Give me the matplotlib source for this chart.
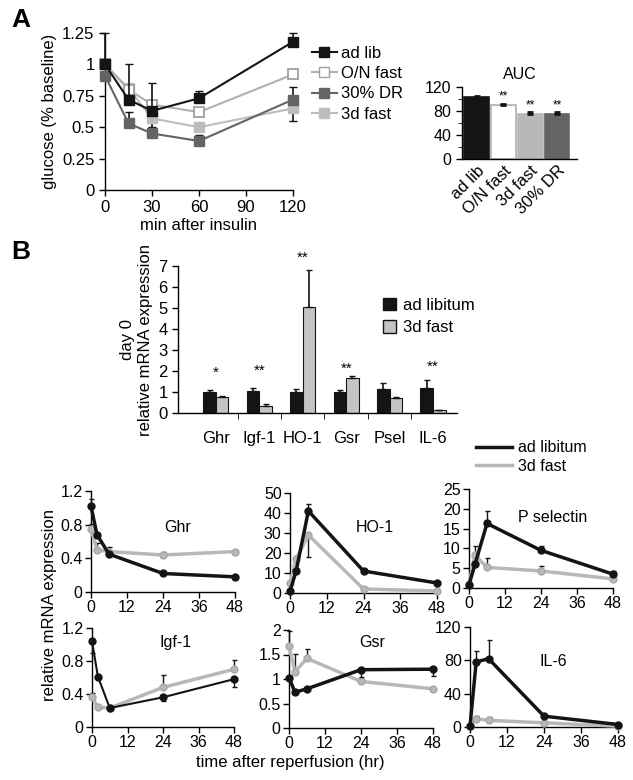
import matplotlib
matplotlib.use("Agg")
import matplotlib.pyplot as plt
from matplotlib.lines import Line2D
from matplotlib.patches import Patch
import numpy as np

plt.rcParams['font.family'] = ['Liberation Sans', 'DejaVu Sans']
plt.rcParams['axes.linewidth'] = 1.0
plt.rcParams['xtick.major.width'] = 1.0
plt.rcParams['ytick.major.width'] = 1.0

# ---------------- Panel A data ----------------
a_minutes = [0, 15, 30, 60, 120]
a_adlib = [1.00, 0.72, 0.63, 0.73, 1.18]
a_adlib_up = [0.25, 0.28, 0.22, 0.06, 0.07]
a_onfast = [1.00, 0.80, 0.68, 0.62, 0.92]
a_dr30 = [0.91, 0.53, 0.45, 0.39, 0.72]
a_dr30_up = [0.0, 0.09, 0.0, 0.05, 0.10]
a_fast3d = [1.00, 0.81, 0.57, 0.50, 0.65]
a_fast3d_lo = [0.0, 0.0, 0.07, 0.0, 0.10]

auc_labels = ['ad lib', 'O/N fast', '3d fast', '30% DR']
auc_values = [103, 90, 75, 75]
auc_err = [1.5, 2.5, 4, 3]
auc_sig = ['', '**', '**', '**']

# ---------------- Panel B day 0 data ----------------
genes = ['Ghr', 'Igf-1', 'HO-1', 'Gsr', 'Psel', 'IL-6']
d0_adlib = [1.02, 1.05, 1.02, 1.02, 1.12, 1.20]
d0_adlib_err = [0.07, 0.15, 0.10, 0.06, 0.33, 0.35]
d0_fast = [0.75, 0.35, 5.05, 1.65, 0.72, 0.13]
d0_fast_err = [0.06, 0.07, 1.75, 0.10, 0.06, 0.03]
d0_sig = ['*', '**', '**', '**', '', '**']
d0_sig_y = [1.9, 2.0, 7.4, 2.1, 0, 2.2]

# ---------------- Time course data ----------------
hours = [0, 2, 6, 24, 48]
tc_titles = ['Ghr', 'HO-1', 'P selectin', 'Igf-1', 'Gsr', 'IL-6']
tc_adlib = [
    [1.02, 0.68, 0.45, 0.22, 0.18],
    [1, 11, 41, 11, 5],
    [0.8, 6, 16.3, 9.5, 3.5],
    [1.04, 0.61, 0.23, 0.36, 0.58],
    [1.03, 0.73, 0.80, 1.19, 1.20],
    [1, 78, 82, 13, 3],
]
tc_adlib_up = [
    [0.08, 0.02, 0.02, 0.02, 0.01],
    [0.5, 1.5, 3.5, 1, 0.5],
    [0.2, 0.6, 3.2, 1.0, 0.8],
    [0, 0, 0.02, 0, 0],
    [0, 0, 0, 0, 0],
    [0, 13, 23, 2, 1],
]
tc_adlib_lo = [
    [0, 0, 0, 0, 0],
    [0, 0, 0, 0, 0],
    [0, 0, 0, 0, 0],
    [0.14, 0.02, 0.02, 0.05, 0.09],
    [0, 0.03, 0.02, 0.14, 0.13],
    [0, 0, 0, 0, 0],
]
tc_fast = [
    [0.75, 0.50, 0.48, 0.44, 0.48],
    [5, 17, 29, 2, 1],
    [1.0, 8.3, 5.2, 4.3, 2.3],
    [0.36, 0.24, 0.23, 0.48, 0.70],
    [1.67, 1.15, 1.42, 0.95, 0.80],
    [1, 10, 8, 5, 1],
]
tc_fast_up = [
    [0.06, 0.08, 0.06, 0.03, 0.02],
    [1, 1.5, 0, 0.5, 0.3],
    [0, 2.4, 2.3, 1.2, 0.3],
    [0.05, 0.02, 0.02, 0.15, 0.11],
    [0.30, 0.37, 0.20, 0.02, 0.02],
    [0, 3, 4, 1, 0.5],
]
tc_fast_lo = [
    [0, 0, 0, 0, 0],
    [0, 0, 11, 0, 0],
    [0, 0, 0, 0, 0],
    [0, 0, 0, 0, 0],
    [0, 0, 0, 0, 0],
    [0, 0, 0, 0, 0],
]
tc_ylim = [1.2, 50, 25, 1.2, 2, 120]
tc_yticks = [[0, 0.4, 0.8, 1.2], [0, 10, 20, 30, 40, 50], [0, 5, 10, 15, 20, 25],
             [0, 0.4, 0.8, 1.2], [0, 0.5, 1, 1.5, 2], [0, 40, 80, 120]]
tc_yticklabels = [['0', '0.4', '0.8', '1.2'], ['0', '10', '20', '30', '40', '50'],
                  ['0', '5', '10', '15', '20', '25'], ['0', '0.4', '0.8', '1.2'],
                  ['0', '0.5', '1', '1.5', '2'], ['0', '40', '80', '120']]
tc_title_pos = [(0.60, 0.64), (0.58, 0.66), (0.58, 0.71), (0.59, 0.85), (0.58, 0.87), (0.56, 0.65)]

BLACK = '#141414'
LGRAY = '#b8b8b8'
DGRAY = '#646464'

FS = 12
fig = plt.figure(figsize=(6.33, 7.80), dpi=100)
W, H = 633, 780


def ax_px(left, top, right, bottom):
    return fig.add_axes([left / W, 1 - bottom / H, (right - left) / W, (bottom - top) / H])


def clean(ax):
    ax.spines['top'].set_visible(False)
    ax.spines['right'].set_visible(False)
    ax.tick_params(direction='out', length=4)


# ---------------- Panel A ----------------
axA = ax_px(105, 33, 293, 190)
clean(axA)
axA.errorbar(a_minutes, a_fast3d, yerr=[a_fast3d_lo, [0] * 5], color='#bdbdbd', lw=1.5,
             marker='s', ms=6.5, mfc='#bdbdbd', mec='#bdbdbd', ecolor=BLACK, elinewidth=1.2,
             capsize=3, clip_on=False, zorder=3)
axA.errorbar(a_minutes, a_dr30, yerr=[[0] * 5, a_dr30_up], color=DGRAY, lw=1.5,
             marker='s', ms=6.5, mfc=DGRAY, mec=DGRAY, ecolor=BLACK, elinewidth=1.2,
             capsize=3, clip_on=False, zorder=3)
axA.errorbar(a_minutes, a_onfast, color='#b0b0b0', lw=1.5, marker='s', ms=6.5,
             mfc='white', mec='#a0a0a0', mew=1.3, clip_on=False, zorder=4)
axA.errorbar(a_minutes, a_adlib, yerr=[[0] * 5, a_adlib_up], color=BLACK, lw=1.5,
             marker='s', ms=6.5, mfc=BLACK, mec=BLACK, ecolor=BLACK, elinewidth=1.2,
             capsize=3, clip_on=False, zorder=5)
axA.set_xlim(0, 120)
axA.set_ylim(0, 1.25)
axA.set_xticks([0, 30, 60, 90, 120])
axA.set_yticks([0, 0.25, 0.5, 0.75, 1, 1.25])
axA.set_yticklabels(['0', '0.25', '0.5', '0.75', '1', '1.25'])
axA.tick_params(labelsize=FS)
axA.set_xlabel('min after insulin', fontsize=FS, labelpad=2)
axA.set_ylabel('glucose (% baseline)', fontsize=FS, labelpad=4)

hA = [Line2D([0], [0], color=BLACK, lw=1.5, marker='s', ms=6.5, mfc=BLACK, mec=BLACK),
      Line2D([0], [0], color='#b0b0b0', lw=1.5, marker='s', ms=6.5, mfc='white', mec='#a0a0a0'),
      Line2D([0], [0], color=DGRAY, lw=1.5, marker='s', ms=6.5, mfc=DGRAY, mec=DGRAY),
      Line2D([0], [0], color='#bdbdbd', lw=1.5, marker='s', ms=6.5, mfc='#bdbdbd', mec='#bdbdbd')]
fig.legend(hA, ['ad lib', 'O/N fast', '30% DR', '3d fast'], loc='upper left',
           bbox_to_anchor=(305 / W, 1 - 39 / H), frameon=False, fontsize=FS,
           handlelength=1.5, handletextpad=0.25, labelspacing=0.32, borderaxespad=0)

# AUC
axU = ax_px(462, 87, 577, 159)
clean(axU)
xs = np.arange(len(auc_labels))
auc_colors = [BLACK, 'white', '#b8b8b8', DGRAY]
auc_edges = [BLACK, '#b0b0b0', '#b8b8b8', DGRAY]
axU.bar(xs, auc_values, width=0.92, color=auc_colors, edgecolor=auc_edges, linewidth=1.2)
axU.errorbar(xs, auc_values, yerr=[[0] * 4, auc_err], fmt='none', ecolor=BLACK,
             elinewidth=2, capsize=2.5, capthick=2)
for x, v, e, s in zip(xs, auc_values, auc_err, auc_sig):
    if s:
        axU.text(x, v + e + 1, s, ha='center', va='bottom', fontsize=8.5)
axU.set_xlim(-0.55, 3.75)
axU.set_ylim(0, 120)
axU.set_yticks([0, 40, 80, 120])
axU.set_yticks([20, 60, 100], minor=True)
axU.tick_params(axis='y', which='minor', length=3, direction='out')
axU.set_xticks(xs)
axU.set_xticklabels(auc_labels, rotation=45, ha='right', rotation_mode='anchor', fontsize=FS)
axU.tick_params(axis='x', length=0, pad=3)
axU.tick_params(axis='y', labelsize=11.5)
axU.set_title('AUC', fontsize=11.5, pad=6)

# ---------------- Panel B day 0 ----------------
axB = ax_px(178, 266, 457, 413)
clean(axB)
gx = np.arange(len(genes))
bw = 0.29
axB.bar(gx - bw / 2, d0_adlib, width=bw, color=BLACK, edgecolor=BLACK, linewidth=0.8)
axB.bar(gx + bw / 2, d0_fast, width=bw, color='#c4c4c4', edgecolor=BLACK, linewidth=0.8)
axB.errorbar(gx - bw / 2, d0_adlib, yerr=[[0] * 6, d0_adlib_err], fmt='none', ecolor=BLACK,
             elinewidth=1.2, capsize=2.5)
axB.errorbar(gx + bw / 2, d0_fast, yerr=[[0] * 6, d0_fast_err], fmt='none', ecolor=BLACK,
             elinewidth=1.2, capsize=2.5)
for x, s, y in zip(gx, d0_sig, d0_sig_y):
    if s:
        axB.text(x, y, s, ha='center', va='center', fontsize=11)
axB.set_xlim(-0.87, 5.55)
axB.set_ylim(0, 7)
axB.set_yticks(range(0, 8))
axB.tick_params(axis='y', labelsize=FS)
axB.set_xticks(gx)
axB.set_xticklabels(genes, fontsize=FS)
axB.tick_params(axis='x', which='major', length=0, pad=13)
axB.set_xticks(gx[:-1] + 0.5, minor=True)
axB.tick_params(axis='x', which='minor', length=4, direction='out')
axB.set_ylabel('day 0\nrelative mRNA expression', fontsize=FS, labelpad=4, linespacing=1.25)
axB.legend(handles=[Patch(facecolor=BLACK, edgecolor=BLACK),
                    Patch(facecolor='#c4c4c4', edgecolor=BLACK)],
           labels=['ad libitum', '3d fast'], loc='upper left', bbox_to_anchor=(0.71, 0.83),
           frameon=False, fontsize=FS, handlelength=0.8, handleheight=0.8,
           handletextpad=0.4, labelspacing=0.45, borderaxespad=0)

# bottom legend
hT = [Line2D([0], [0], color=BLACK, lw=2.5), Line2D([0], [0], color=LGRAY, lw=2.5)]
fig.legend(hT, ['ad libitum', '3d fast'], loc='upper left',
           bbox_to_anchor=(470 / W, 1 - 434 / H), frameon=False, fontsize=11.5,
           handlelength=2.2, handletextpad=0.4, labelspacing=0.2, borderaxespad=0)

# ---------------- Time-course panels ----------------
boxes = [(91, 491, 235, 592), (290, 493, 437, 593), (469, 489, 613, 588),
         (92, 628, 234, 727), (289, 630, 433, 728), (470, 627, 618, 727)]
for i in range(6):
    ax = ax_px(*boxes[i])
    clean(ax)
    lwb = 1.5 if tc_titles[i] == 'Igf-1' else 2.5
    ax.errorbar(hours, tc_fast[i], yerr=[tc_fast_lo[i], tc_fast_up[i]], color=LGRAY, lw=2.5,
                marker='o', ms=5, mfc=LGRAY, mec='#a8a8a8', ecolor=BLACK, elinewidth=1,
                capsize=1.8, clip_on=False, zorder=3)
    ax.errorbar(hours, tc_adlib[i], yerr=[tc_adlib_lo[i], tc_adlib_up[i]], color=BLACK,
                lw=lwb, marker='o', ms=5, mfc=BLACK, mec=BLACK, ecolor=BLACK, elinewidth=1,
                capsize=1.8, clip_on=False, zorder=4)
    ax.set_xlim(0, 48)
    ax.set_ylim(0, tc_ylim[i])
    ax.set_xticks([0, 12, 24, 36, 48])
    ax.set_yticks(tc_yticks[i])
    ax.set_yticklabels(tc_yticklabels[i])
    ax.tick_params(labelsize=11.5, length=4, pad=2)
    ax.text(tc_title_pos[i][0], tc_title_pos[i][1], tc_titles[i], transform=ax.transAxes,
            ha='center', va='center', fontsize=11.5)

fig.text(50 / W, 1 - 605 / H, 'relative mRNA expression', rotation=90, ha='center',
         va='center', fontsize=FS)
fig.text(290 / W, 1 - 763 / H, 'time after reperfusion (hr)', ha='center', va='center',
         fontsize=FS)

fig.text(21 / W, 1 - 20 / H, 'A', fontsize=19, fontweight='bold', ha='center', va='center')
fig.text(21 / W, 1 - 252 / H, 'B', fontsize=19, fontweight='bold', ha='center', va='center')

fig.savefig('out.png', dpi=100)
